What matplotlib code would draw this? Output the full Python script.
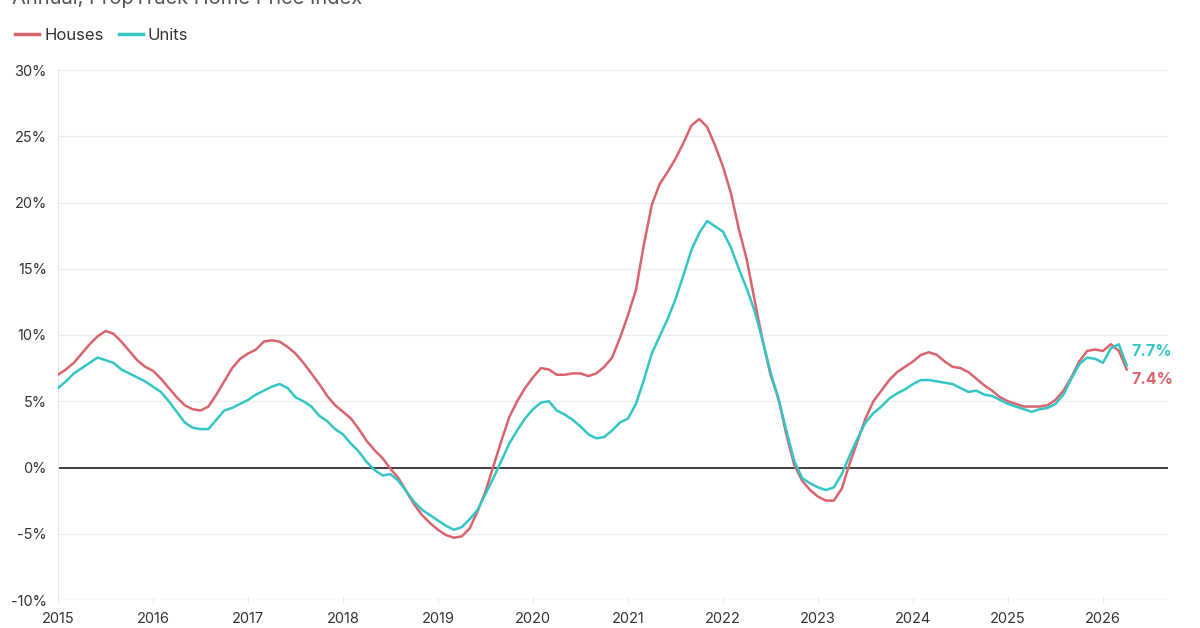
import matplotlib
matplotlib.use("Agg")
import matplotlib.pyplot as plt
import numpy as np
from matplotlib.lines import Line2D

start_year = 2015
houses = [
    7.0, 7.4, 7.9, 8.6, 9.3, 9.9, 10.3, 10.1, 9.5, 8.8, 8.1, 7.6,        # 2015
    7.3, 6.7, 6.0, 5.3, 4.7, 4.4, 4.3, 4.6, 5.5, 6.5, 7.5, 8.2,          # 2016
    8.6, 8.9, 9.5, 9.6, 9.5, 9.1, 8.6, 7.9, 7.1, 6.3, 5.4, 4.7,          # 2017
    4.2, 3.7, 2.9, 2.0, 1.3, 0.7, -0.1, -0.8, -1.8, -2.8, -3.6, -4.2,    # 2018
    -4.7, -5.1, -5.3, -5.2, -4.6, -3.3, -1.8, 0.1, 2.0, 3.8, 5.0, 6.0,   # 2019
    6.8, 7.5, 7.4, 7.0, 7.0, 7.1, 7.1, 6.9, 7.1, 7.6, 8.3, 9.8,          # 2020
    11.5, 13.4, 16.8, 19.8, 21.4, 22.3, 23.3, 24.5, 25.8, 26.3, 25.7, 24.3,  # 2021
    22.7, 20.7, 18.0, 15.7, 12.6, 9.6, 7.0, 5.2, 2.5, 0.2, -1.0, -1.7,   # 2022
    -2.2, -2.5, -2.5, -1.6, 0.3, 2.0, 3.7, 5.0, 5.8, 6.6, 7.2, 7.6,      # 2023
    8.0, 8.5, 8.7, 8.5, 8.0, 7.6, 7.5, 7.2, 6.7, 6.2, 5.8, 5.3,          # 2024
    5.0, 4.8, 4.6, 4.6, 4.6, 4.7, 5.1, 5.8, 6.8, 8.0, 8.8, 8.9,          # 2025
    8.8, 9.3, 8.8, 7.4,                                                  # 2026
]
units = [
    6.0, 6.5, 7.1, 7.5, 7.9, 8.3, 8.1, 7.9, 7.4, 7.1, 6.8, 6.5,          # 2015
    6.1, 5.7, 5.0, 4.2, 3.4, 3.0, 2.9, 2.9, 3.6, 4.3, 4.5, 4.8,          # 2016
    5.1, 5.5, 5.8, 6.1, 6.3, 6.0, 5.3, 5.0, 4.6, 3.9, 3.5, 2.9,          # 2017
    2.5, 1.8, 1.2, 0.4, -0.2, -0.6, -0.5, -1.0, -1.8, -2.6, -3.2, -3.6,  # 2018
    -4.0, -4.4, -4.7, -4.5, -3.9, -3.2, -2.0, -0.8, 0.5, 1.8, 2.8, 3.7,  # 2019
    4.4, 4.9, 5.0, 4.3, 4.0, 3.6, 3.1, 2.5, 2.2, 2.3, 2.8, 3.4,          # 2020
    3.7, 4.8, 6.6, 8.6, 9.9, 11.2, 12.7, 14.5, 16.4, 17.7, 18.6, 18.2,   # 2021
    17.8, 16.6, 15.0, 13.5, 11.8, 9.6, 7.2, 5.2, 2.8, 0.5, -0.8, -1.2,   # 2022
    -1.5, -1.7, -1.5, -0.5, 0.9, 2.2, 3.4, 4.1, 4.6, 5.2, 5.6, 5.9,      # 2023
    6.3, 6.6, 6.6, 6.5, 6.4, 6.3, 6.0, 5.7, 5.8, 5.5, 5.4, 5.1,          # 2024
    4.8, 4.6, 4.4, 4.2, 4.4, 4.5, 4.8, 5.5, 6.7, 7.8, 8.3, 8.2,          # 2025
    7.9, 9.0, 9.3, 7.7,                                                  # 2026
]
year_ticks = list(range(2015, 2027))
y_ticks = [-10, -5, 0, 5, 10, 15, 20, 25, 30]

RED = "#d9646e"
TEAL = "#34c5c5"
FONT = ["Inter", "DejaVu Sans"]
plt.rcParams["font.family"] = FONT

x = start_year + np.arange(len(houses)) / 12.0

fig = plt.figure(figsize=(12, 6.28), dpi=100)
ax = fig.add_axes([58/1200, 1-600/628, (1168-58)/1200, (600-70)/628])

ax.plot(x, houses, color=RED, lw=1.8, solid_joinstyle="round", zorder=3)
ax.plot(x, units, color=TEAL, lw=1.8, solid_joinstyle="round", zorder=3)
ax.axhline(0, color="#222222", lw=1.2, zorder=2)

ax.set_xlim(2015, 2015 + (1168-58)/95.0)
ax.set_ylim(-10, 30)
ax.set_xticks(year_ticks)
ax.set_xticklabels([str(y) for y in year_ticks])
ax.set_yticks(y_ticks)
ax.set_yticklabels([f"{v}%" for v in y_ticks])
ax.grid(axis="y", color="#ececec", lw=0.9)
for s in ["top", "right", "bottom"]:
    ax.spines[s].set_visible(False)
ax.spines["left"].set_color("#e6e6e6")
ax.tick_params(axis="y", length=0, labelsize=10.5, colors="#333333", pad=8)
ax.tick_params(axis="x", length=5, direction="inout", color="#e6e6e6", labelsize=10.5,
               labelcolor="#333333", pad=6)
ax.axhline(-10, color="#ececec", lw=0.9, zorder=1)

# end labels
ax.annotate(f"{units[-1]:.1f}%", xy=(x[-1], units[-1]), xytext=(3, 10), textcoords="offset points",
            color=TEAL, fontsize=11.5, fontweight="bold", va="center", ha="left")
ax.annotate(f"{houses[-1]:.1f}%", xy=(x[-1], houses[-1]), xytext=(3, -7), textcoords="offset points",
            color=RED, fontsize=11.5, fontweight="bold", va="center", ha="left")

# title (cut at top, as in the source) and legend
fig.text(12/1200, 1-4/628, "Annual, PropTrack Home Price Index", fontsize=14.5, color="#555555",
         ha="left", va="baseline")
handles = [Line2D([], [], color=RED, lw=2.5), Line2D([], [], color=TEAL, lw=2.5)]
fig.legend(handles, ["Houses", "Units"], loc="center left", bbox_to_anchor=(0/1200, 1-35/628),
           ncol=2, frameon=False, fontsize=12, handlelength=1.45, handletextpad=0.3,
           columnspacing=0.9, labelcolor="#333333")

fig.savefig("out.png", dpi=100, facecolor="white")
